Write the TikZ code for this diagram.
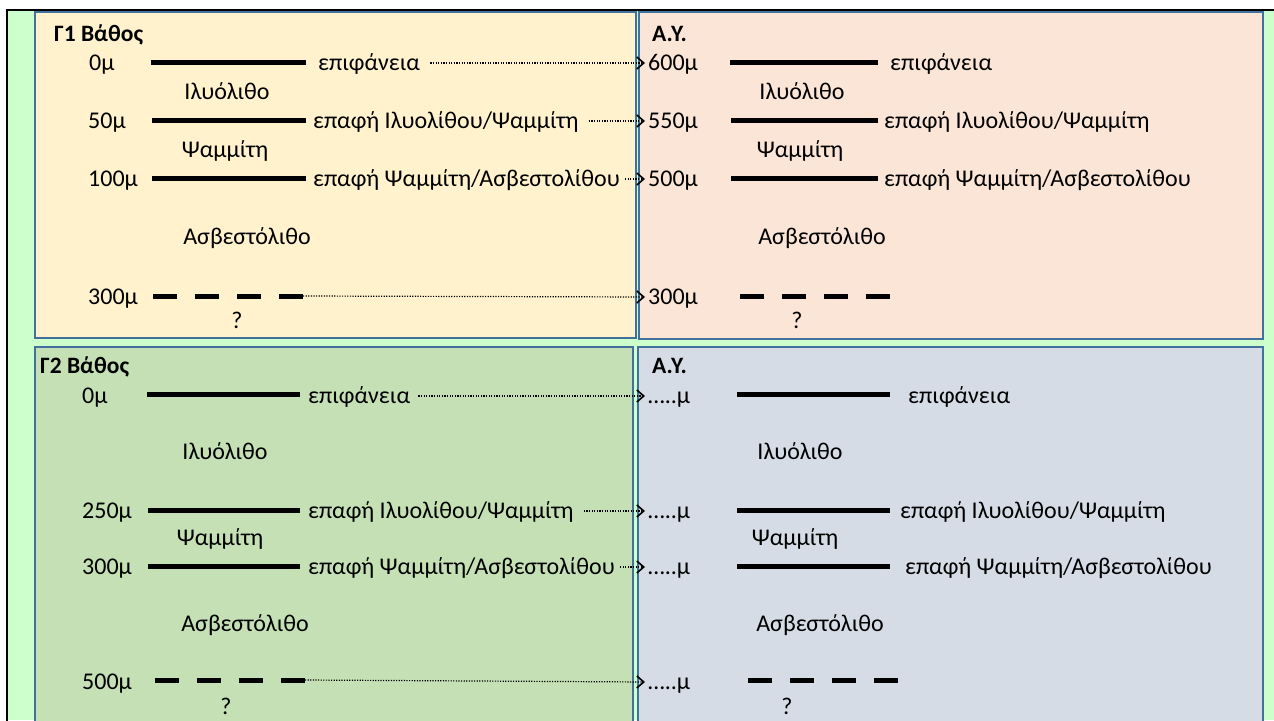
\documentclass[tikz,border=0pt]{standalone}
\usepackage{fontspec}
\setmainfont{Carlito}
\usetikzlibrary{arrows.meta}

\definecolor{bggreen}{HTML}{CCFFCC}
\definecolor{tlfill}{HTML}{FFF2CC}
\definecolor{trfill}{HTML}{FBE5D6}
\definecolor{blfill}{HTML}{C5E0B4}
\definecolor{brfill}{HTML}{D6DCE5}
\definecolor{panelblue}{HTML}{41719C}

\tikzset{
  lbl/.style={font=\fontsize{24}{28}\selectfont,inner sep=0pt,text height=17pt,text depth=3pt},
  ttl/.style={lbl,font=\fontsize{23.5}{28}\selectfont\bfseries},
  bed/.style={line width=5pt},
  bedq/.style={line width=5pt,dash pattern=on 24pt off 18pt},
  link/.style={line width=1.2pt,dash pattern=on 1.2pt off 1.4pt,
    -{Straight Barb[length=7pt,width=12pt,line width=1.6pt]}},
  panel/.style={draw=panelblue,line width=1.3pt}
}

\begin{document}
\begin{tikzpicture}[x=1pt,y=-1pt]
\useasboundingbox (0,0) rectangle (1274,720);
\fill[white] (0,0) rectangle (1274,720);
\fill[bggreen] (7,10) rectangle (1274,720);
\draw[line width=2.5pt] (7,721) -- (7,10) -- (1274,10);

% panels
\filldraw[panel,fill=tlfill] (35,12) rectangle (636,338);
\filldraw[panel,fill=trfill] (639,12) rectangle (1263,339);
\filldraw[panel,fill=blfill] (35,347) rectangle (633,724);
\filldraw[panel,fill=brfill] (638,347) rectangle (1263,724);

% G1 depths
\node[ttl,anchor=west] (tl-t) at (54,34) {Γ1 Βάθος};
\node[lbl,anchor=west] (tl-d0) at (89,63) {0μ};
\draw[bed] (151,62) -- (306,62);
\node[lbl,anchor=west] (tl-c0) at (318,63) {επιφάνεια};
\node[lbl] (tl-r0) at (227,92) {Ιλυόλιθο};
\node[lbl,anchor=west] (tl-d1) at (88,121) {50μ};
\draw[bed] (152,120) -- (306,120);
\node[lbl,anchor=west] (tl-c1) at (313,121) {επαφή Ιλυολίθου/Ψαμμίτη};
\node[lbl] (tl-r1) at (225,150) {Ψαμμίτη};
\node[lbl,anchor=west] (tl-d2) at (88,179) {100μ};
\draw[bed] (152,178) -- (306,178);
\node[lbl,anchor=west] (tl-c2) at (313,179) {επαφή Ψαμμίτη/Ασβεστολίθου};
\node[lbl] (tl-r2) at (247,237) {Ασβεστόλιθο};
\node[lbl,anchor=west] (tl-d3) at (88,297) {300μ};
\draw[bedq] (153,296) -- (303,296);
\coordinate (tl-q) at (303,296);
\node[lbl] (tl-u) at (237,321) {?};

% G1 sea level
\node[ttl,anchor=west] (tr-t) at (652,34) {Α.Υ.};
\node[lbl,anchor=west] (tr-d0) at (648,63) {600μ};
\draw[bed] (730,62) -- (878,62);
\node[lbl,anchor=west] (tr-c0) at (890,63) {επιφάνεια};
\node[lbl] (tr-r0) at (802,92) {Ιλυόλιθο};
\node[lbl,anchor=west] (tr-d1) at (648,121) {550μ};
\draw[bed] (731,120) -- (878,120);
\node[lbl,anchor=west] (tr-c1) at (884,121) {επαφή Ιλυολίθου/Ψαμμίτη};
\node[lbl] (tr-r1) at (800,150) {Ψαμμίτη};
\node[lbl,anchor=west] (tr-d2) at (648,179) {500μ};
\draw[bed] (731,178) -- (878,178);
\node[lbl,anchor=west] (tr-c2) at (884,179) {επαφή Ψαμμίτη/Ασβεστολίθου};
\node[lbl] (tr-r2) at (822,237) {Ασβεστόλιθο};
\node[lbl,anchor=west] (tr-d3) at (648,297) {300μ};
\draw[bedq] (740,296) -- (890,296);
\node[lbl] (tr-u) at (797,321) {?};

% G2 depths
\node[ttl,anchor=west] (bl-t) at (40,366) {Γ2 Βάθος};
\node[lbl,anchor=west] (bl-d0) at (82,396) {0μ};
\draw[bed] (147,394) -- (300,394);
\node[lbl,anchor=west] (bl-c0) at (308,396) {επιφάνεια};
\node[lbl] (bl-r0) at (225,452) {Ιλυόλιθο};
\node[lbl,anchor=west] (bl-d1) at (82,511) {250μ};
\draw[bed] (148,510) -- (300,510);
\node[lbl,anchor=west] (bl-c1) at (308,511) {επαφή Ιλυολίθου/Ψαμμίτη};
\node[lbl] (bl-r1) at (220,538) {Ψαμμίτη};
\node[lbl,anchor=west] (bl-d2) at (82,567) {300μ};
\draw[bed] (148,566) -- (300,566);
\node[lbl,anchor=west] (bl-c2) at (308,567) {επαφή Ψαμμίτη/Ασβεστολίθου};
\node[lbl] (bl-r2) at (245,624) {Ασβεστόλιθο};
\node[lbl,anchor=west] (bl-d3) at (82,682) {500μ};
\draw[bedq] (155,680) -- (305,680);
\coordinate (bl-q) at (305,680);
\node[lbl] (bl-u) at (226,707) {?};

% G2 sea level
\node[ttl,anchor=west] (br-t) at (652,366) {Α.Υ.};
\node[lbl,anchor=west] (br-d0) at (648,396) {…..μ};
\draw[bed] (737,394) -- (890,394);
\node[lbl,anchor=west] (br-c0) at (908,396) {επιφάνεια};
\node[lbl] (br-r0) at (800,452) {Ιλυόλιθο};
\node[lbl,anchor=west] (br-d1) at (648,511) {…..μ};
\draw[bed] (737,510) -- (890,510);
\node[lbl,anchor=west] (br-c1) at (900,511) {επαφή Ιλυολίθου/Ψαμμίτη};
\node[lbl] (br-r1) at (795,538) {Ψαμμίτη};
\node[lbl,anchor=west] (br-d2) at (648,567) {…..μ};
\draw[bed] (737,566) -- (890,566);
\node[lbl,anchor=west] (br-c2) at (905,567) {επαφή Ψαμμίτη/Ασβεστολίθου};
\node[lbl] (br-r2) at (820,624) {Ασβεστόλιθο};
\node[lbl,anchor=west] (br-d3) at (648,682) {…..μ};
\draw[bedq] (748,680) -- (898,680);
\node[lbl] (br-u) at (787,707) {?};

% links
\draw[link] ([xshift=10pt]tl-c0.east) -- ([xshift=-3pt]tr-d0.west);
\draw[link] ([xshift=10pt]tl-c1.east) -- ([xshift=-3pt]tr-d1.west);
\draw[link] ([xshift=5pt]tl-c2.east) -- ([xshift=-3pt]tr-d2.west);
\draw[link] (tl-q) -- ([xshift=-3pt]tr-d3.west);
\draw[link] ([xshift=8pt]bl-c0.east) -- ([xshift=-3pt]br-d0.west);
\draw[link] ([xshift=10pt]bl-c1.east) -- ([xshift=-3pt]br-d1.west);
\draw[link] ([xshift=5pt]bl-c2.east) -- ([xshift=-3pt]br-d2.west);
\draw[link] (bl-q) -- ([xshift=-3pt]br-d3.west);
\end{tikzpicture}
\end{document}
